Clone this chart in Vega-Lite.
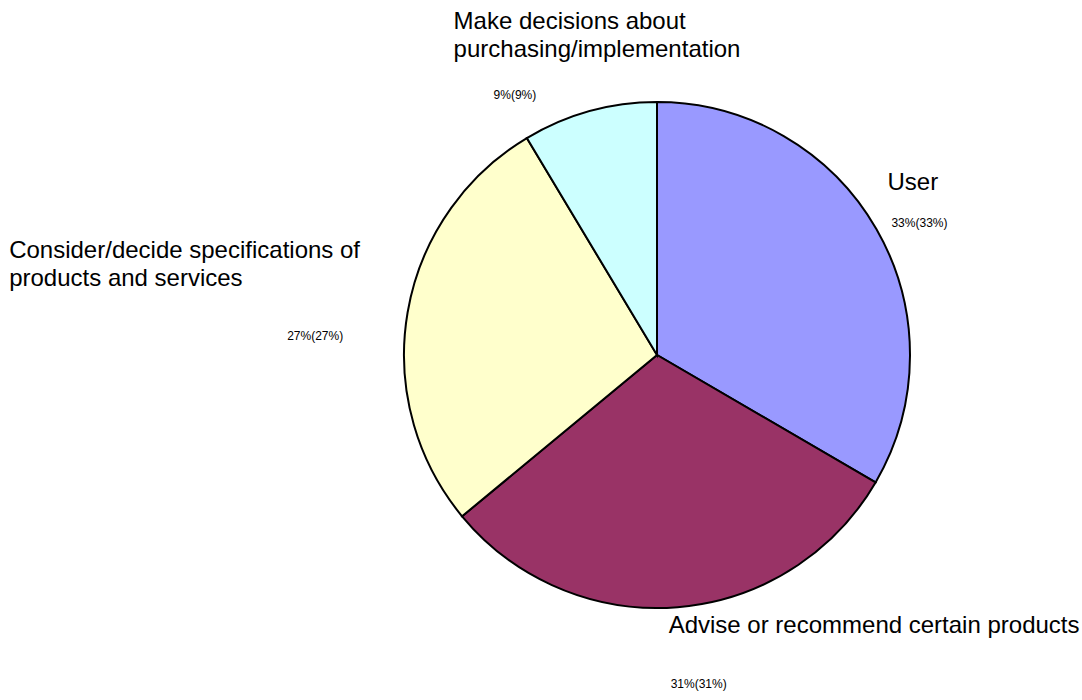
{
  "$schema": "https://vega.github.io/schema/vega-lite/v6.json",
  "autosize": {"type": "none"},
  "width": 850,
  "height": 690,
  "padding": {"left": 232, "top": 10, "right": 0, "bottom": 0},
  "background": "white",
  "config": {"view": {"stroke": null}, "text": {"font": "Liberation Sans"}},
  "data": {
    "values": [
      {"category": "User", "name": "User", "value": 33.4, "pct": "33%(33%)"},
      {"category": "Advise", "name": "Advise or recommend certain products", "value": 30.6, "pct": "31%(31%)"},
      {"category": "Consider", "name": "Consider/decide specifications of\nproducts and services", "value": 27.4, "pct": "27%(27%)"},
      {"category": "Make", "name": "Make decisions about\npurchasing/implementation", "value": 8.6, "pct": "9%(9%)"}
    ]
  },
  "transform": [{"window": [{"op": "row_number", "as": "idx"}]}],
  "encoding": {
    "theta": {"field": "value", "type": "quantitative", "stack": true},
    "order": {"field": "idx", "type": "quantitative"}
  },
  "layer": [
    {
      "mark": {"type": "arc", "outerRadius": 253, "stroke": "black", "strokeWidth": 2},
      "encoding": {
        "color": {
          "field": "category", "type": "nominal", "legend": null,
          "scale": {"domain": ["User", "Advise", "Consider", "Make"], "range": ["#9999FF", "#993366", "#FFFFCC", "#CCFFFF"]}
        }
      }
    },
    {
      "mark": {"type": "text", "radius": 290, "dx": -21, "dy": -21, "align": "left", "baseline": "alphabetic", "fontSize": 24, "lineHeight": 28, "lineBreak": "\n", "color": "black"},
      "encoding": {"text": {"condition": {"test": "datum.category === 'User'", "field": "name"}, "value": ""}}
    },
    {
      "mark": {"type": "text", "radius": 290, "dx": -12, "dy": -11, "align": "left", "baseline": "alphabetic", "fontSize": 24, "lineHeight": 28, "lineBreak": "\n", "color": "black"},
      "encoding": {"text": {"condition": {"test": "datum.category === 'Advise'", "field": "name"}, "value": ""}}
    },
    {
      "mark": {"type": "text", "radius": 290, "dx": -362, "dy": -48, "align": "left", "baseline": "alphabetic", "fontSize": 24, "lineHeight": 28, "lineBreak": "\n", "color": "black"},
      "encoding": {"text": {"condition": {"test": "datum.category === 'Consider'", "field": "name"}, "value": ""}}
    },
    {
      "mark": {"type": "text", "radius": 290, "dx": -126, "dy": -47, "align": "left", "baseline": "alphabetic", "fontSize": 24, "lineHeight": 28, "lineBreak": "\n", "color": "black"},
      "encoding": {"text": {"condition": {"test": "datum.category === 'Make'", "field": "name"}, "value": ""}}
    },
    {
      "mark": {"type": "text", "radius": 290, "dx": -17, "dy": 16, "align": "left", "baseline": "alphabetic", "fontSize": 12, "color": "black"},
      "encoding": {"text": {"condition": {"test": "datum.category === 'User'", "field": "pct"}, "value": ""}}
    },
    {
      "mark": {"type": "text", "radius": 290, "dx": -10, "dy": 44, "align": "left", "baseline": "alphabetic", "fontSize": 12, "color": "black"},
      "encoding": {"text": {"condition": {"test": "datum.category === 'Advise'", "field": "pct"}, "value": ""}}
    },
    {
      "mark": {"type": "text", "radius": 290, "dx": -84, "dy": 34, "align": "left", "baseline": "alphabetic", "fontSize": 12, "color": "black"},
      "encoding": {"text": {"condition": {"test": "datum.category === 'Consider'", "field": "pct"}, "value": ""}}
    },
    {
      "mark": {"type": "text", "radius": 290, "dx": -86, "dy": 23, "align": "left", "baseline": "alphabetic", "fontSize": 12, "color": "black"},
      "encoding": {"text": {"condition": {"test": "datum.category === 'Make'", "field": "pct"}, "value": ""}}
    }
  ]
}
